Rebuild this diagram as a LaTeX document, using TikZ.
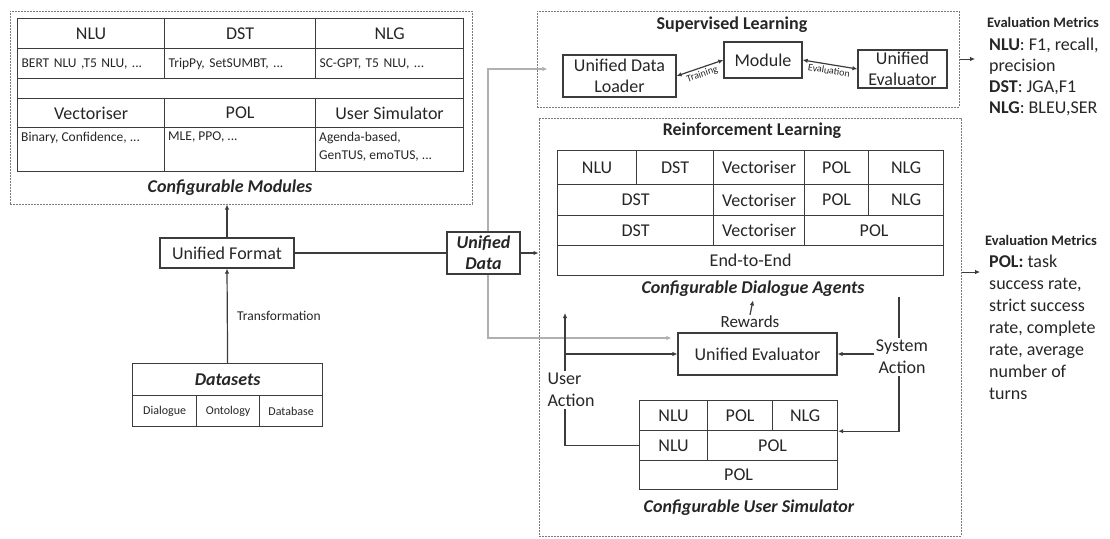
\documentclass[tikz,border=0pt]{standalone}
\usepackage{fontspec}
\setmainfont{Carlito}
\usetikzlibrary{positioning,arrows.meta}
\definecolor{linec}{HTML}{3C3C3C}
\definecolor{feedc}{HTML}{B0B0B0}
\definecolor{textc}{HTML}{262626}
\definecolor{groupc}{HTML}{7A7A7A}

\begin{document}
\begin{tikzpicture}[x=1pt,y=-1pt,>={Latex[length=5pt,width=4.5pt]},
	every node/.style={text=textc},
	lab/.style={font=\fontsize{18}{21}\selectfont},
	sm/.style={font=\fontsize{13.5}{19}\selectfont},
	bi/.style={font=\fontsize{18}{21}\selectfont\bfseries\itshape},
	bt/.style={font=\fontsize{18}{21}\selectfont\bfseries},
	cell/.style={draw=linec,line width=1.2pt,anchor=north west,inner sep=0pt,lab},
	wh/.style 2 args={minimum width=#1,minimum height=#2},
	box/.style={draw=linec,line width=1.2pt,align=center,inner sep=0pt,lab},
	group/.style={draw=groupc,line width=1pt,dash pattern=on 1.6pt off 1.4pt,inner sep=0pt},
	link/.style={draw=linec,line width=1.2pt},
	feed/.style={draw=feedc,line width=1.2pt}]
	\useasboundingbox (0,0) rectangle (1110,538);

	% configurable modules
	\node[group,wh={462}{193}] (Modules) at (241,107.5) {};
	\node[cell,wh={147}{30}] (ModNLU) at (17,18)  {NLU};
	\node[cell,wh={151}{30}] (ModDST) at (164,18) {DST};
	\node[cell,wh={148}{30}] (ModNLG) at (315,18) {NLG};
	\node[cell,sm,wh={147}{30},text width=139pt,inner xsep=4pt,align=left] (ModNLUImpl) at (17,48)  {BERT NLU ,T5 NLU, ...};
	\node[cell,sm,wh={151}{30},text width=143pt,inner xsep=4pt,align=left] (ModDSTImpl) at (164,48) {TripPy, SetSUMBT, ...};
	\node[cell,sm,wh={148}{30},text width=140pt,inner xsep=4pt,align=left] (ModNLGImpl) at (315,48) {SC-GPT, T5 NLU, ...};
	\node[cell,wh={446}{20}] (ModGap) at (17,78) {};
	\node[cell,wh={147}{29}] (ModVec) at (17,98)  {Vectoriser};
	\node[cell,wh={151}{29}] (ModPOL) at (164,98) {POL};
	\node[cell,wh={148}{29}] (ModUS)  at (315,98) {User Simulator};
	\node[cell,wh={147}{44}] (ModVecImpl) at (17,127)  {};
	\node[cell,wh={151}{44}] (ModPOLImpl) at (164,127) {};
	\node[cell,wh={148}{44}] (ModUSImpl)  at (315,127) {};
	\node[sm,anchor=north west,inner sep=0pt,align=left] (VecText) at ([shift={(4,5)}]ModVecImpl.north west) {Binary, Confidence, ...};
	\node[sm,anchor=north west,inner sep=0pt,align=left] (POLText) at ([shift={(4,5)}]ModPOLImpl.north west) {MLE, PPO, ...};
	\node[sm,anchor=north west,inner sep=0pt,align=left,font=\fontsize{13.5}{18}\selectfont] (USText) at ([shift={(4,5)}]ModUSImpl.north west) {Agenda-based,\\GenTUS, emoTUS, ...};
	\node[bi] (ModLabel) at (230,188) {Configurable Modules};

	% data side
	\node[box,wh={134}{30}] (UnifiedFormat) at (227,253) {Unified Format};
	\node[cell,bi,wh={190}{32}] (Datasets) at (132,363) {Datasets};
	\node[cell,wh={64}{31},font=\fontsize{12}{14}\selectfont] (DsDialogue) at (132,395) {Dialogue};
	\node[cell,wh={63}{31},font=\fontsize{12}{14}\selectfont] (DsOntology) at (196,395) {Ontology};
	\node[cell,wh={63}{31},font=\fontsize{12}{14}\selectfont] (DsDatabase) at (259,395) {Database};
	\node[box,bi,wh={73}{42}] (UnifiedData) at (483.5,253) {Unified\\Data};

	% supervised learning
	\node[group,wh={422}{96}] (Supervised) at (748,59) {};
	\node[bt] (SupTitle) at (732,25) {Supervised Learning};
	\node[box,wh={113}{42}] (DataLoader) at (619.5,76) {Unified Data\\Loader};
	\node[box,wh={78}{36}] (Module) at (763,60) {Module};
	\node[box,wh={89}{38}] (SupEvaluator) at (902.5,69) {Unified\\Evaluator};

	% reinforcement learning
	\node[group,wh={422}{418}] (Reinforcement) at (750,327) {};
	\node[bt] (RLTitle) at (752,131) {Reinforcement Learning};
	\node[cell,wh={79}{34}] (AgNLU) at (557,150) {NLU};
	\node[cell,wh={77}{34}] (AgDST) at (636,150) {DST};
	\node[cell,wh={91}{34}] (AgVec) at (713,150) {Vectoriser};
	\node[cell,wh={64}{34}] (AgPOL) at (804,150) {POL};
	\node[cell,wh={75}{34}] (AgNLG) at (868,150) {NLG};
	\node[cell,wh={156}{31}] (AgDSTb) at (557,184) {DST};
	\node[cell,wh={91}{31}]  (AgVecb) at (713,184) {Vectoriser};
	\node[cell,wh={64}{31}]  (AgPOLb) at (804,184) {POL};
	\node[cell,wh={75}{31}]  (AgNLGb) at (868,184) {NLG};
	\node[cell,wh={156}{30}] (AgDSTc) at (557,215) {DST};
	\node[cell,wh={91}{30}]  (AgVecc) at (713,215) {Vectoriser};
	\node[cell,wh={139}{30}] (AgPOLc) at (804,215) {POL};
	\node[cell,wh={386}{30}] (AgE2E)  at (557,245) {End-to-End};
	\node[bi] (AgentsLabel) at (753,289) {Configurable Dialogue Agents};
	\node[lab,font=\fontsize{17}{20}\selectfont,inner sep=1pt] (Rewards) at (750,322) {Rewards};
	\node[box,wh={159}{42}] (RLEvaluator) at (757.5,354) {Unified Evaluator};
	\node[cell,wh={68}{30}]  (UsNLU)  at (639,400) {NLU};
	\node[cell,wh={65}{30}]  (UsPOL)  at (707,400) {POL};
	\node[cell,wh={65}{30}]  (UsNLG)  at (772,400) {NLG};
	\node[cell,wh={68}{30}]  (UsNLUb) at (639,430) {NLU};
	\node[cell,wh={130}{30}] (UsPOLb) at (707,430) {POL};
	\node[cell,wh={198}{29}] (UsPOLc) at (639,460) {POL};
	\node[bi] (UserSimLabel) at (749,508) {Configurable User Simulator};
	\node[lab,align=left,inner sep=2pt,font=\fontsize{18}{22}\selectfont] (UserAction) at (571,390) {User\\Action};
	\node[lab,align=center,inner sep=2pt,font=\fontsize{18}{22}\selectfont] (SystemAction) at (902,357) {System\\Action};
	\coordinate (UATop) at (565,313);
	\coordinate (SATop) at (899,297);

	% evaluation metrics
	\node[anchor=west,inner sep=0pt,font=\fontsize{14.5}{17}\selectfont\bfseries] (SupMetricsTitle) at (987,22) {Evaluation Metrics};
	\node[anchor=north west,inner sep=0pt,align=left,font=\fontsize{18}{21}\selectfont] (SupMetrics) at (989,38)
		{\textbf{NLU}: F1, recall,\\precision\\\textbf{DST}: JGA,F1\\\textbf{NLG}: BLEU,SER};
	\node[anchor=west,inner sep=0pt,font=\fontsize{14.5}{17}\selectfont\bfseries] (RLMetricsTitle) at (985,240) {Evaluation Metrics};
	\node[anchor=north west,inner sep=0pt,align=left,font=\fontsize{18}{22}\selectfont] (RLMetrics) at (989,255)
		{\textbf{POL:} task\\success rate,\\strict success\\rate, complete\\rate, average\\number of\\turns};
	\coordinate (SupTip) at (975,59);
	\coordinate (RLTip) at (980,272);

	% connectors
	\draw[link,->] (Datasets.north) -- node[right,sm,font=\fontsize{13.5}{16}\selectfont,xshift=6pt] {Transformation} (UnifiedFormat.south);
	\draw[link,->] (UnifiedFormat.north) -- (UnifiedFormat.north |- Modules.south);
	\draw[link] (UnifiedFormat.east) -- (UnifiedData.west);
	\draw[link,->] (UnifiedData.east) -- (UnifiedData.east -| Reinforcement.west);
	\draw[feed,->] ([xshift=4.5pt]UnifiedData.north) |- ([xshift=-15pt,yshift=7pt]DataLoader.west);
	\draw[feed,->] ([xshift=4.5pt]UnifiedData.south) |- ([xshift=-6pt,yshift=16pt]RLEvaluator.west);
	\draw[link,<->] (DataLoader.east) -- node[sloped,below,font=\fontsize{10}{12}\selectfont,inner sep=2pt] {Training} (Module.west);
	\draw[link,<->] (Module.east) -- node[sloped,below,font=\fontsize{10}{12}\selectfont,inner sep=2pt] {Evaluation} (SupEvaluator.west);
	\draw[link,->,line width=0.8pt] (Supervised.east) -- (SupTip);
	\draw[link,->,line width=0.8pt] (Reinforcement.east |- RLTip) -- (RLTip);
	\draw[link,->] (Rewards.north) -- (AgentsLabel.south);
	\draw[link] (UsNLUb.west) -| ([xshift=-6pt]UserAction.south);
	\draw[link,->] (UserAction.north -| UATop) -- (UATop);
	\draw[link,->] (UATop |- RLEvaluator.west) -- (RLEvaluator.west);
	\draw[link] (SATop) -- (SATop |- SystemAction.north);
	\draw[link,->] (SystemAction.west |- RLEvaluator.east) -- (RLEvaluator.east);
	\draw[link,->] (SATop |- SystemAction.south) |- (UsNLG.south east);
\end{tikzpicture}
\end{document}
